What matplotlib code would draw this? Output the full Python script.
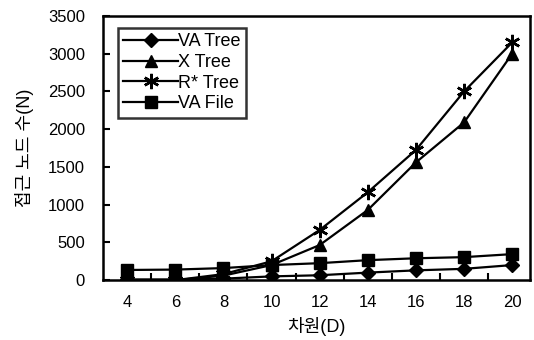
import matplotlib
matplotlib.use("Agg")
import matplotlib.pyplot as plt

plt.rcParams['font.family'] = ['Liberation Sans', 'Noto Sans CJK KR', 'DejaVu Sans']

dims = [4, 6, 8, 10, 12, 14, 16, 18, 20]
va_tree = [10, 10, 20, 50, 65, 100, 130, 150, 200]
x_tree = [0, 0, 60, 200, 465, 930, 1560, 2090, 3000]
rstar_tree = [0, 0, 80, 250, 665, 1165, 1725, 2500, 3150]
va_file = [135, 140, 160, 200, 225, 265, 290, 305, 345]

fig = plt.figure(figsize=(5.34, 3.4), dpi=100)
ax = fig.add_axes([0.193, 0.176, 0.8, 0.777])

kw = dict(color='black', lw=1.6, mec='black', mfc='black')
ax.plot(dims, va_tree, marker='D', ms=7, label='VA Tree', **kw)
ax.plot(dims, x_tree, marker='^', ms=9, label='X Tree', **kw)
ax.plot(dims, rstar_tree, marker=(6, 2, 0), ms=11, mew=1.8, label='R* Tree', **kw)
ax.plot(dims, va_file, marker='s', ms=9, label='VA File', **kw)

ax.set_xlim(3, 20.75)
ax.set_ylim(0, 3500)
ax.set_xticks(dims)
ax.set_xticks([5, 7, 9, 11, 13, 15, 17, 19], minor=True)
ax.set_yticks(range(0, 3501, 500))
ax.tick_params(axis='x', which='major', length=0, pad=11, labelsize=12)
ax.tick_params(axis='x', which='minor', direction='in', length=5, width=1.5)
ax.tick_params(axis='y', direction='in', length=5, width=1.5, pad=13, labelsize=12)
for s in ax.spines.values():
    s.set_linewidth(1.8)

ax.set_xlabel('차원(D)', fontsize=13, labelpad=5)
ax.set_ylabel('접근 노드 수(N)', fontsize=13, labelpad=10)

leg = ax.legend(loc='upper left', bbox_to_anchor=(0.035, 0.955), frameon=True,
                fancybox=False, edgecolor='black', fontsize=13,
                handlelength=3.0, handletextpad=0.0, labelspacing=0.2,
                borderpad=0.3, borderaxespad=0)
leg.get_frame().set_linewidth(1.8)

fig.savefig('out.png', dpi=100)
